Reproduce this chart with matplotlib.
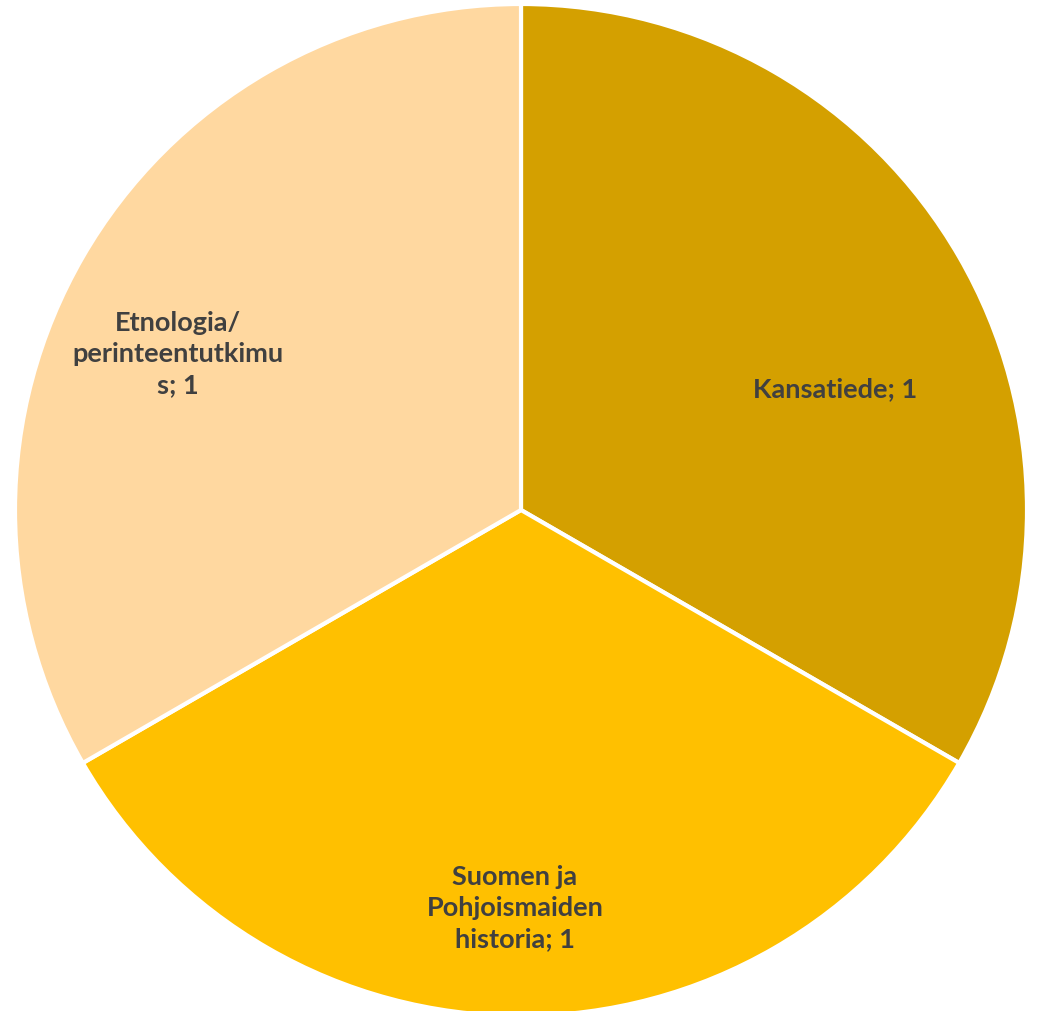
import matplotlib
matplotlib.use("Agg")
import matplotlib.pyplot as plt

categories = ["Kansatiede", "Suomen ja\nPohjoismaiden\nhistoria", "Etnologia/\nperinteentutkimu\ns"]
values = [1, 1, 1]
colors = ["#D4A000", "#FFC000", "#FFD8A0"]
label_pos = [(0.62, 0.24), (-0.012, -0.785), (-0.678, 0.31)]

fig = plt.figure(figsize=(10.4, 10.12), dpi=100)
R = 506
cx, cy = 521, 511
ax = fig.add_axes([(cx - R) / 1040, (1012 - cy - R) / 1012, 2 * R / 1040, 2 * R / 1012])
wedges, _ = ax.pie(values, colors=colors, startangle=90, counterclock=False,
                   radius=1.0, wedgeprops=dict(edgecolor="white", linewidth=3))
for cat, v, (x, y) in zip(categories, values, label_pos):
    ax.text(x, y, f"{cat}; {v}", ha="center", va="center", fontsize=19.5,
            fontweight="bold", color="#404040", family="Lato", linespacing=1.37)
ax.set_xlim(-1, 1)
ax.set_ylim(-1, 1)
ax.set_aspect("equal")
ax.axis("off")
fig.savefig("out.png", dpi=100)
